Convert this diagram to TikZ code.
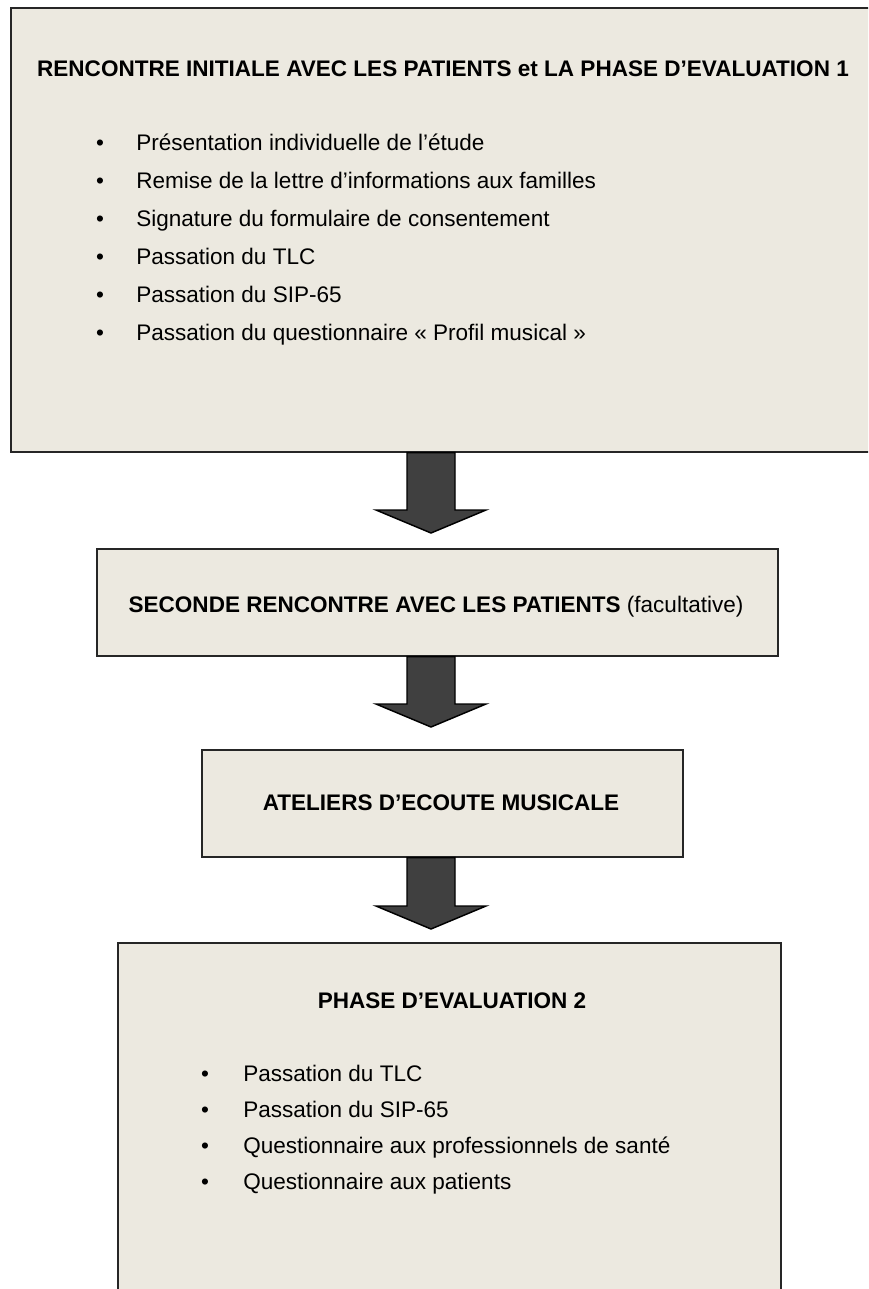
\documentclass[tikz,border=0pt]{standalone}
\usepackage{fontspec}
\setmainfont{Liberation Sans}
\usetikzlibrary{calc}

\definecolor{boxfill}{RGB}{236,233,224}
\definecolor{arrowfill}{RGB}{64,64,64}
\newcommand{\diagfont}{\fontsize{16.9pt}{20pt}\selectfont}

\tikzset{
	stagebox/.style={draw=black!85, line width=1.2pt, fill=boxfill, inner sep=0pt, anchor=north west},
	stagetitle/.style={anchor=base, inner sep=0.75pt, font=\diagfont\bfseries},
	itemdot/.style={anchor=base, inner sep=0.75pt},
	itemtext/.style={anchor=base west, inner sep=0.75pt},
	blockarr/.style={draw=black, line width=1.1pt, fill=arrowfill, line join=miter},
}

% block arrow from #1 (top of shaft) to #2 (tip)
\newcommand{\blockarrow}[2]{%
	\draw[blockarr] ($(#1)+(-24,0)$) -- ($(#1)+(24,0)$) -- ($(#2)+(24,-23)$) -- ($(#2)+(55,-23)$)
		-- (#2) -- ($(#2)+(-55,-23)$) -- ($(#2)+(-24,-23)$) -- cycle;}

\begin{document}
\begin{tikzpicture}[x=0.75pt,y=0.75pt,yscale=-1,xscale=1,font=\diagfont]
	\useasboundingbox (0,0) rectangle (868,1289);
	\clip (0,0) rectangle (868,1289);

	% Stage 1
	\node[stagebox, minimum width=649.5pt, minimum height=333pt] (rencontre) at (10,7) {};
	\node[stagetitle] (rencontreTitle) at (443,76) {RENCONTRE INITIALE AVEC LES PATIENTS et LA PHASE D’EVALUATION 1};
	\foreach \txt [count=\i] in {Présentation individuelle de l’étude, Remise de la lettre d’informations aux familles, Signature du formulaire de consentement, Passation du TLC, Passation du SIP-65, Passation du questionnaire « Profil musical »}
	{
		\node[itemdot] (rencontreDot\i) at (100,{150+38*(\i-1)}) {•};
		\node[itemtext] (rencontreItem\i) at (135,{150+38*(\i-1)}) {\txt};
	}

	% Stage 2
	\node[stagebox, minimum width=510.75pt, minimum height=80.25pt] (seconde) at (96,548) {};
	\node[stagetitle] (secondeTitle) at (436,612) {SECONDE RENCONTRE AVEC LES PATIENTS \mdseries(facultative)};

	% Stage 3
	\node[stagebox, minimum width=360.75pt, minimum height=80.25pt] (ateliers) at (201,749) {};
	\node[stagetitle] (ateliersTitle) at (441,810) {ATELIERS D’ECOUTE MUSICALE};

	% Stage 4
	\node[stagebox, minimum width=497.25pt, minimum height=300pt] (evaluation) at (117,942) {};
	\node[stagetitle] (evaluationTitle) at (452,1008) {PHASE D’EVALUATION 2};
	\foreach \txt [count=\i] in {Passation du TLC, Passation du SIP-65, Questionnaire aux professionnels de santé, Questionnaire aux patients}
	{
		\node[itemdot] (evaluationDot\i) at (205,{1081+36*(\i-1)}) {•};
		\node[itemtext] (evaluationItem\i) at (242,{1081+36*(\i-1)}) {\txt};
	}

	% Connections
	\coordinate (axis) at (431,0);
	\blockarrow{rencontre.south -| axis}{$(seconde.north -| axis)+(0,-15)$}
	\blockarrow{seconde.south -| axis}{$(ateliers.north -| axis)+(0,-22)$}
	\blockarrow{ateliers.south -| axis}{$(evaluation.north -| axis)+(0,-13)$}

\end{tikzpicture}
\end{document}
